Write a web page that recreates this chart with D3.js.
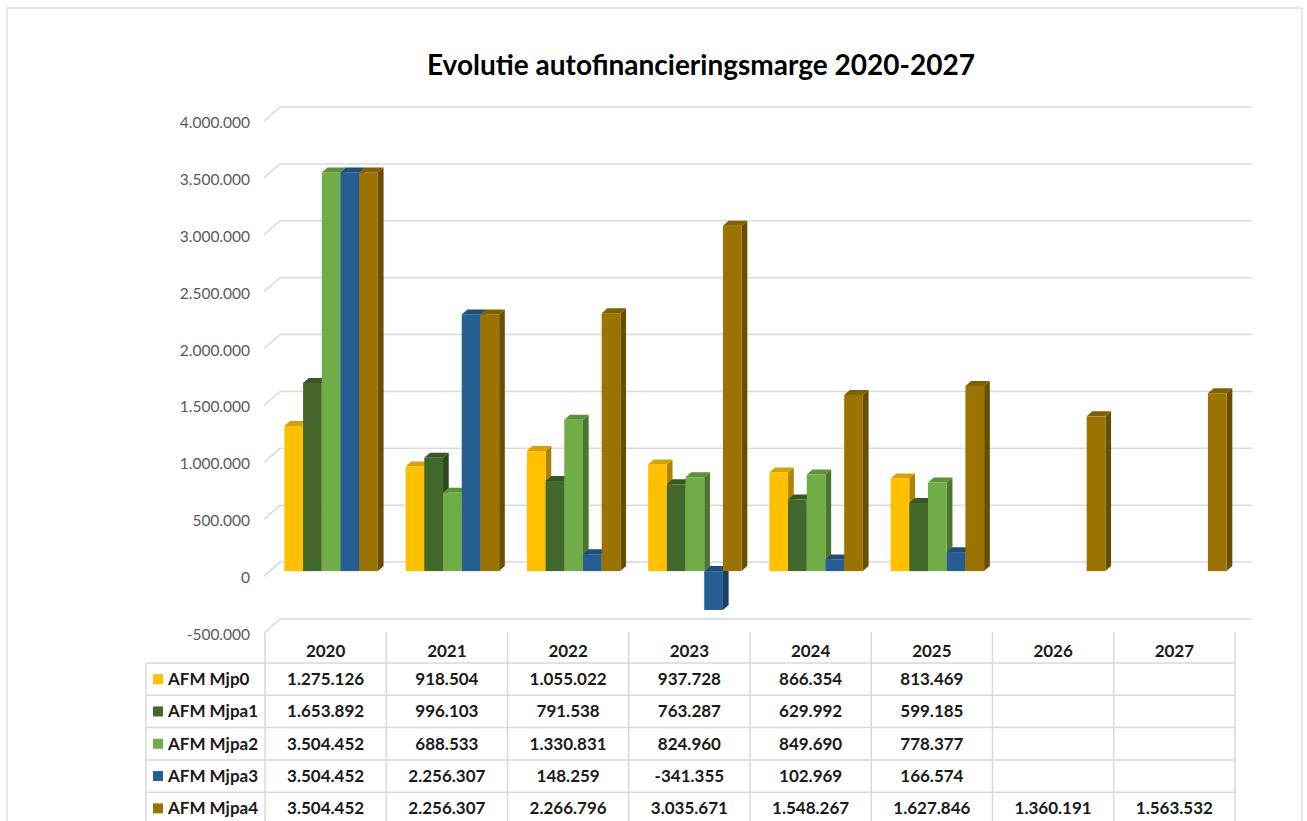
<!DOCTYPE html>
<html>
<head>
<meta charset="utf-8">
<script src="https://cdn.jsdelivr.net/npm/d3@7"></script>
<style>
  body { margin: 0; background: #fff; }
  svg { display: block; font-family: Lato, "Open Sans", sans-serif; }
</style>
</head>
<body>
<svg id="chart" width="1307" height="821"></svg>
<script>
// --------------------------------------------------------------------------------------------------
// data

const years = ["2020", "2021", "2022", "2023", "2024", "2025", "2026", "2027"];
const seriesNames = ["AFM Mjp0", "AFM Mjpa1", "AFM Mjpa2", "AFM Mjpa3", "AFM Mjpa4"];
const seriesColors = ["#FFC000", "#43682B", "#70AD47", "#255E91", "#9A7300"];

const mjp0  = [1275126, 918504, 1055022, 937728, 866354, 813469, null, null];
const mjpa1 = [1653892, 996103, 791538, 763287, 629992, 599185, null, null];
const mjpa2 = [3504452, 688533, 1330831, 824960, 849690, 778377, null, null];
const mjpa3 = [3504452, 2256307, 148259, -341355, 102969, 166574, null, null];
const mjpa4 = [3504452, 2256307, 2266796, 3035671, 1548267, 1627846, 1360191, 1563532];
const seriesValues = [mjp0, mjpa1, mjpa2, mjpa3, mjpa4];

const yTicks = [-500000, 0, 500000, 1000000, 1500000, 2000000, 2500000, 3000000, 3500000, 4000000];

// --------------------------------------------------------------------------------------------------
// setup

const svg = d3.select("#chart");
const nl = d3.formatLocale({ decimal: ",", thousands: ".", grouping: [3], currency: ["€", ""], minus: "-" });
const fmt = nl.format(",.0f");

// front plane of the 3d box
const y = d3.scaleLinear().domain([-500000, 4000000]).range([633, 121]);
const x = d3.scaleBand().domain(years).range([265, 1235]);
const groupW = 93.5;
const xs = d3.scaleBand().domain(d3.range(seriesNames.length)).range([0, groupW]);

const wallDx = 16, wallDy = -14;   // depth of the back wall
const barOx = 5.5, barOy = -5;     // where the bars stand inside the box
const barDx = 5.7, barDy = -5;     // depth of a bar
const gridRight = 1252;

// outer border
svg.append("rect")
    .attr("x", 7).attr("y", 8)
    .attr("width", 1295).attr("height", 830)
    .attr("fill", "none")
    .attr("stroke", "#d9d9d9")
    .attr("stroke-width", 1.2);

// title
svg.append("text")
    .attr("x", 701).attr("y", 75)
    .attr("text-anchor", "middle")
    .attr("font-size", 29)
    .attr("font-weight", 700)
    .attr("fill", "#000")
    .attr("textLength", 548)
    .attr("lengthAdjust", "spacingAndGlyphs")
    .text("Evolutie autofinancieringsmarge 2020-2027");

// gridlines: diagonal on the side wall then horizontal on the back wall
const grid = svg.append("g").attr("stroke", "#d9d9d9").attr("stroke-width", 1.5).attr("fill", "none");
yTicks.forEach(t => {
    const yy = y(t);
    grid.append("path")
        .attr("d", `M264,${yy} L${264 + wallDx},${yy + wallDy} L${gridRight},${yy + wallDy}`);
});

// y labels
svg.append("g")
    .selectAll("text")
    .data(yTicks)
    .join("text")
    .attr("x", 250)
    .attr("y", d => y(d) + 1)
    .attr("text-anchor", "end")
    .attr("dominant-baseline", "central")
    .attr("font-size", 15.5)
    .attr("fill", "#595959")
    .text(d => fmt(d));

// --------------------------------------------------------------------------------------------------
// 3d columns

const bars = [];
years.forEach((yr, ci) => {
    seriesValues.forEach((vals, si) => {
        if (vals[ci] == null) return;
        bars.push({ ci, si, v: vals[ci] });
    });
});

const barG = svg.append("g");
bars.forEach(b => {
    const w = xs.bandwidth();
    const bx = x(years[b.ci]) + (x.bandwidth() - groupW) / 2 + xs(b.si) + barOx;
    const top = Math.min(y(b.v), y(0)) + barOy;
    const bot = Math.max(y(b.v), y(0)) + barOy;
    const c = seriesColors[b.si];
    const g = barG.append("g");
    g.append("path")
        .attr("d", `M${bx + w},${top} L${bx + w + barDx},${top + barDy} L${bx + w + barDx},${bot + barDy} L${bx + w},${bot} Z`)
        .attr("fill", d3.color(c).darker(1.1));
    g.append("path")
        .attr("d", `M${bx},${top} L${bx + barDx},${top + barDy} L${bx + w + barDx},${top + barDy} L${bx + w},${top} Z`)
        .attr("fill", d3.color(c).darker(0.5));
    g.append("rect")
        .attr("x", bx).attr("y", top)
        .attr("width", w).attr("height", bot - top)
        .attr("fill", c);
});

// --------------------------------------------------------------------------------------------------
// data table

const tableLeft = 146, tableRight = 1235;
const headerTop = 632, rowH = 32.3, firstRow = 663;
const tbl = svg.append("g").attr("stroke", "#d9d9d9").attr("stroke-width", 1.5);

// vertical lines
[x(years[0])].concat(years.map(yr => x(yr) + x.bandwidth())).forEach(xx => {
    tbl.append("line").attr("x1", xx).attr("x2", xx).attr("y1", headerTop).attr("y2", 830);
});
tbl.append("line").attr("x1", tableLeft).attr("x2", tableLeft).attr("y1", firstRow).attr("y2", 830);

// horizontal lines
d3.range(seriesNames.length + 1).forEach(i => {
    const yy = firstRow + i * rowH;
    tbl.append("line").attr("x1", tableLeft).attr("x2", tableRight).attr("y1", yy).attr("y2", yy);
});

// header
svg.append("g")
    .selectAll("text")
    .data(years)
    .join("text")
    .attr("x", d => x(d) + x.bandwidth() / 2)
    .attr("y", 657)
    .attr("text-anchor", "middle")
    .attr("font-size", 17)
    .attr("font-weight", 700)
    .attr("fill", "#1a1a1a")
    .text(d => d);

// rows
seriesNames.forEach((name, si) => {
    const cy = firstRow + si * rowH + rowH / 2;
    svg.append("rect")
        .attr("x", 153).attr("y", cy - 5)
        .attr("width", 10).attr("height", 10)
        .attr("fill", seriesColors[si]);
    svg.append("text")
        .attr("x", 168).attr("y", cy + 6)
        .attr("font-size", 17)
        .attr("font-weight", 700)
        .attr("fill", "#1a1a1a")
        .text(name);
    svg.append("g")
        .selectAll("text")
        .data(seriesValues[si].map((v, ci) => ({ v, ci })).filter(d => d.v != null))
        .join("text")
        .attr("x", d => x(years[d.ci]) + x.bandwidth() / 2)
        .attr("y", cy + 6)
        .attr("text-anchor", "middle")
        .attr("font-size", 17)
        .attr("font-weight", 700)
        .attr("fill", "#1a1a1a")
        .text(d => fmt(d.v));
});
</script>
</body>
</html>
